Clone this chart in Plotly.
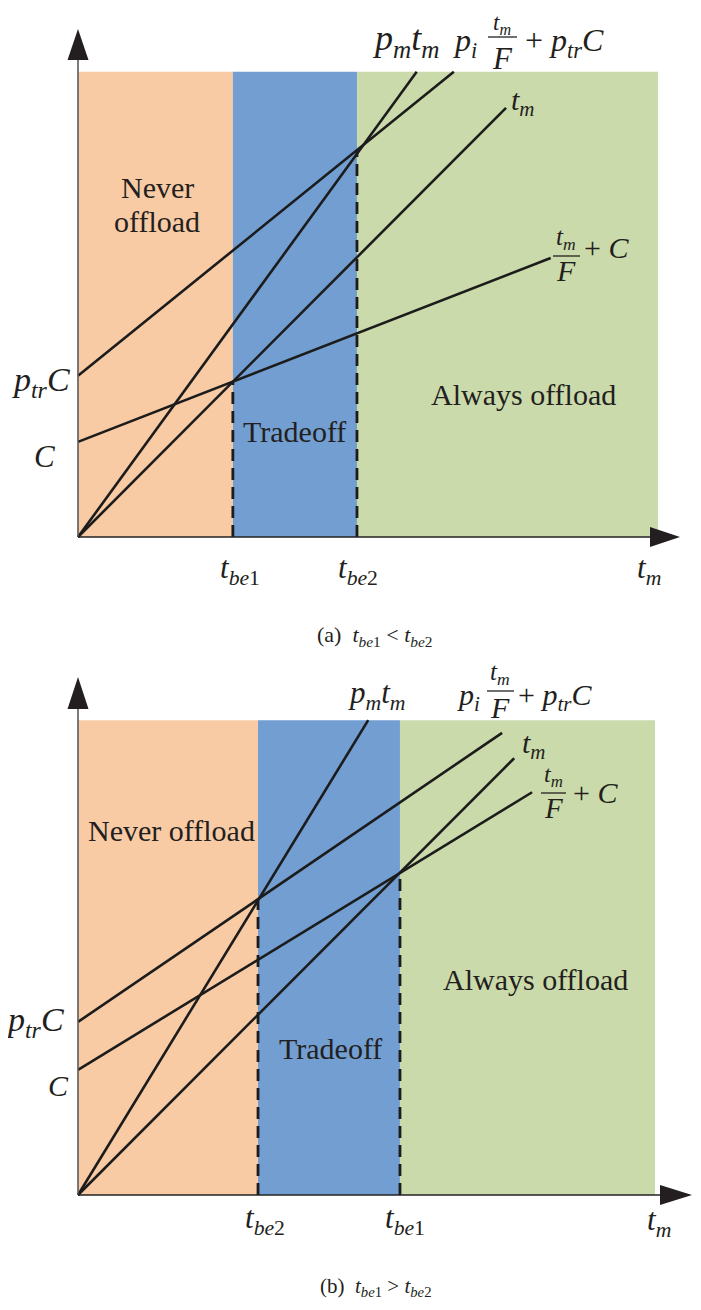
import plotly.graph_objects as go

# ---------------- data (t_m units) ----------------
# Panel (a): t_be1 < t_be2
a_region_edges = [0.0, 2.67, 4.81, 10.0]
a_region_top = 8.02
a_pmtm_x = [0.0, 5.84]
a_pmtm_y = [0.0, 8.02]
a_pitr_x = [0.0, 6.48]
a_pitr_y = [2.78, 8.02]
a_tm_x = [0.0, 7.38]
a_tm_y = [0.0, 7.40]
a_tfc_x = [0.0, 8.15]
a_tfc_y = [1.64, 4.81]
a_dash_x = [2.67, 4.81]
a_dash_top = [2.69, 6.67]

# Panel (b): t_be1 > t_be2
b_region_edges = [0.0, 3.12, 5.58, 10.0]
b_region_top = 8.23
b_pmtm_x = [0.0, 5.03]
b_pmtm_y = [0.0, 8.23]
b_pitr_x = [0.0, 7.35]
b_pitr_y = [3.00, 8.01]
b_tm_x = [0.0, 7.56]
b_tm_y = [0.0, 7.57]
b_tfc_x = [0.0, 7.87]
b_tfc_y = [2.17, 6.98]
b_dash_x = [3.12, 5.58]
b_dash_top = [5.11, 5.58]

region_colors = ["#F8CBA5", "#729ED1", "#CBDAAA"]

OFF = 8            # page body margin
FW, FH = 685, 1294  # figure size so that page pixels match the 701x1310 window
LINE = "#1c1c1c"
SERIF = "Liberation Serif"

fig = go.Figure()

panels = [
    dict(xa="x", ya="y", ox=78, oy=537, s=58.0, top=OFF, bot=655,
         edges=a_region_edges, rtop=a_region_top,
         lines=[(a_pmtm_x, a_pmtm_y), (a_pitr_x, a_pitr_y), (a_tm_x, a_tm_y), (a_tfc_x, a_tfc_y)],
         dx=a_dash_x, dt=a_dash_top,
         ytip=29, ybase=60, xtip=680, xbase=650),
    dict(xa="x2", ya="y2", ox=78, oy=1195, s=57.7, top=655, bot=FH + OFF,
         edges=b_region_edges, rtop=b_region_top,
         lines=[(b_pmtm_x, b_pmtm_y), (b_pitr_x, b_pitr_y), (b_tm_x, b_tm_y), (b_tfc_x, b_tfc_y)],
         dx=b_dash_x, dt=b_dash_top,
         ytip=677, ybase=709, xtip=692, xbase=660),
]

shapes = []
layout_axes = {}
for i, p in enumerate(panels):
    s, ox, oy = p["s"], p["ox"], p["oy"]
    xr = [(OFF - ox) / s, (FW + OFF - ox) / s]
    yr = [(oy - p["bot"]) / s, (oy - p["top"]) / s]
    xk = "xaxis" if i == 0 else "xaxis2"
    yk = "yaxis" if i == 0 else "yaxis2"
    d0 = max(0.0, 1 - (p["bot"] - OFF) / FH)
    d1 = min(1.0, 1 - (p["top"] - OFF) / FH)
    layout_axes[xk] = dict(range=xr, domain=[0, 1], visible=False, fixedrange=True,
                           anchor=p["ya"])
    layout_axes[yk] = dict(range=yr, domain=[d0, d1],
                           visible=False, fixedrange=True, anchor=p["xa"])
    # regions
    e = p["edges"]
    for k in range(3):
        shapes.append(dict(type="rect", xref=p["xa"], yref=p["ya"], x0=e[k], x1=e[k + 1],
                           y0=0, y1=p["rtop"], fillcolor=region_colors[k],
                           line=dict(width=0), layer="below"))
    # axes lines
    ytip_d = (oy - p["ytip"]) / s
    ybase_d = (oy - p["ybase"]) / s
    xtip_d = (p["xtip"] - ox) / s
    xbase_d = (p["xbase"] - ox) / s
    shapes.append(dict(type="line", xref=p["xa"], yref=p["ya"], x0=0, x1=0, y0=0, y1=ybase_d,
                       line=dict(color="#5a5a5a", width=1.6)))
    shapes.append(dict(type="line", xref=p["xa"], yref=p["ya"], x0=0, x1=xbase_d, y0=0, y1=0,
                       line=dict(color="#222222", width=1.6)))
    hw = 10.5 / s
    shapes.append(dict(type="path", xref=p["xa"], yref=p["ya"],
                       path=f"M {-hw} {ybase_d} L {hw} {ybase_d} L 0 {ytip_d} Z",
                       fillcolor="#231f20", line=dict(width=0)))
    hh = 10.0 / s
    shapes.append(dict(type="path", xref=p["xa"], yref=p["ya"],
                       path=f"M {xbase_d} {-hh} L {xbase_d} {hh} L {xtip_d} 0 Z",
                       fillcolor="#231f20", line=dict(width=0)))
    # lines
    for lx, ly in p["lines"]:
        fig.add_trace(go.Scatter(x=lx, y=ly, mode="lines", xaxis=p["xa"], yaxis=p["ya"],
                                 line=dict(color=LINE, width=2.6), showlegend=False,
                                 hoverinfo="skip"))
    for dx, dt in zip(p["dx"], p["dt"]):
        fig.add_trace(go.Scatter(x=[dx, dx], y=[0, dt], mode="lines", xaxis=p["xa"], yaxis=p["ya"],
                                 line=dict(color=LINE, width=2.8, dash="12px,7px"),
                                 showlegend=False, hoverinfo="skip"))

annotations = []


def px(x):
    return (x - OFF) / FW


def py(y):
    return 1 - (y - OFF) / FH


def txt(text, x, y, size=30, xanchor="left", yanchor="middle"):
    annotations.append(dict(text=text, x=px(x), y=py(y), xref="paper", yref="paper",
                            xanchor=xanchor, yanchor=yanchor, showarrow=False,
                            font=dict(family=SERIF, size=size, color="#231f20")))


def bar(x0, x1, y):
    shapes.append(dict(type="line", xref="paper", yref="paper", x0=px(x0), x1=px(x1),
                       y0=py(y), y1=py(y), line=dict(color="#231f20", width=1.3)))


def it(s):
    return f"<i>{s}</i>"


PMTM = it("p") + "<sub>" + it("m") + "</sub>" + it("t") + "<sub>" + it("m") + "</sub>"
TM = it("t") + "<sub>" + it("m") + "</sub>"
PI = it("p") + "<sub>" + it("i") + "</sub>"
PTRC = it("p") + "<sub>" + it("tr") + "</sub>" + it("C")
PLUS_PTRC = "+ " + PTRC
TBE1 = it("t") + "<sub>" + it("be") + "1</sub>"
TBE2 = it("t") + "<sub>" + it("be") + "2</sub>"

# ---- panel (a) texts ----
txt("Never", 157, 188, 30, "center")
txt("offload", 157, 222, 30, "center")
txt("Tradeoff", 294, 432, 30, "center")
txt("Always offload", 523, 394, 30, "center")
txt(PTRC, 72, 382, 34, "right")
txt(it("C"), 57, 456, 31, "right")
txt(PMTM, 370, 40, 36)
txt(PI, 451, 42, 32)
txt(TM, 502, OFF, 23, "center", "top")
bar(488, 517, 37)
txt(it("F"), 502, 59, 31, "center")
txt(PLUS_PTRC, 523, 42, 32)
txt(TM, 509, 102, 30)
txt(TM, 566, 238, 25, "center")
bar(553, 580, 256)
txt(it("F"), 566, 271, 30, "center")
txt("+ " + it("C"), 582, 247, 30)
txt(TBE1, 218, 570, 31)
txt(TBE2, 336, 570, 31)
txt(TM, 635, 570, 31)
txt("(a)&nbsp;&nbsp;" + TBE1 + " &lt; " + TBE2, 375, 636, 22, "center")

# ---- panel (b) texts ----
txt("Never offload", 171, 830, 30, "center")
txt("Tradeoff", 330, 1048, 30, "center")
txt("Always offload", 535, 980, 30, "center")
txt(PTRC, 66, 1022, 34, "right")
txt(it("C"), 71, 1085, 30, "right")
txt(PMTM, 346, 695, 31)
txt(PI, 455, 697, 30)
txt(TM, 500, 673, 25, "center")
bar(487, 514, 691)
txt(it("F"), 500, 707, 30, "center")
txt(PLUS_PTRC, 516, 697, 30)
txt(TM, 520, 745, 30)
txt(TM, 553, 776, 24, "center")
bar(541, 566, 793)
txt(it("F"), 553, 808, 29, "center")
txt("+ " + it("C"), 571, 792, 30)
txt(TBE2, 243, 1220, 31)
txt(TBE1, 383, 1220, 31)
txt(TM, 645, 1222, 31)
txt("(b)&nbsp;&nbsp;" + TBE1 + " &gt; " + TBE2, 375, FH + OFF, 21, "center", "bottom")

fig.update_layout(width=FW, height=FH, margin=dict(l=0, r=0, t=0, b=0),
                  paper_bgcolor="white", plot_bgcolor="white",
                  shapes=shapes, annotations=annotations, showlegend=False,
                  **layout_axes)

fig.write_html("out.html", config={"displayModeBar": False})
